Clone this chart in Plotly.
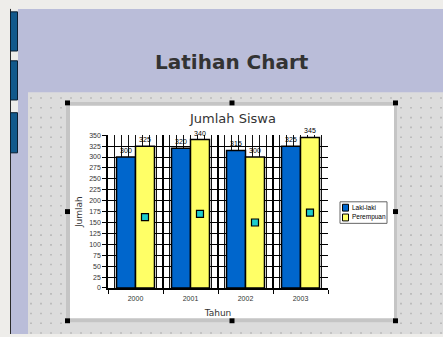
import numpy as np
import plotly.graph_objects as go

W, H = 443, 337

# ---- data -------------------------------------------------------------
years = ["2000", "2001", "2002", "2003"]
laki_laki = [300, 320, 315, 325]
perempuan = [325, 340, 300, 345]
penanda = [162.5, 170, 150, 172.5]
y_ticks = list(range(0, 351, 25))
series_names = ["Laki-laki", "Perempuan"]

# ---- style ------------------------------------------------------------
COL_LAKI = "#0066CC"
COL_PEREMPUAN = "#FFFF66"
COL_MARKER = "#1CCCCC"
TXT = "#333333"
FONT = "DejaVu Sans"
SMALL = "Liberation Sans Narrow, Liberation Sans, sans-serif"
BAR_GAP = 0.31

# plot rectangle on the page, in pixels
PL, PR, PT, PB = 108, 328, 134, 290


def fx(px):
    return px / W


def fy(py):
    return 1 - py / H


idx = np.arange(len(years))
fig = go.Figure()

# dotted snap grid of the slide workspace (canvas subplot underneath)
gx, gy = np.meshgrid(np.arange(31, W, 10), np.arange(96, H, 10))
gx, gy = gx.ravel(), gy.ravel()
in_frame = (gx >= 63) & (gx <= 400) & (gy >= 97) & (gy <= 328)
keep = (gx >= 29) & (gy >= 91) & ~in_frame
fig.add_trace(go.Scatter(
    x=gx[keep], y=gy[keep], mode="markers",
    marker=dict(size=1.6, color="#B4B4B4", symbol="square", line=dict(width=0)),
    xaxis="x", yaxis="y", hoverinfo="skip", showlegend=False))

# bars
for vals, name, col in [(laki_laki, series_names[0], COL_LAKI),
                        (perempuan, series_names[1], COL_PEREMPUAN)]:
    fig.add_trace(go.Bar(
        x=idx, y=vals, name=name,
        marker=dict(color=col, line=dict(color="black", width=1.5)),
        text=[str(v) for v in vals], textposition="outside",
        textfont=dict(size=7, color="black", family=SMALL),
        constraintext="none",
        cliponaxis=False, xaxis="x2", yaxis="y2", showlegend=False))

# square markers sitting in the second bar of each group
offset = (1 - BAR_GAP) / 4
fig.add_trace(go.Scatter(
    x=idx + offset, y=penanda, mode="markers",
    marker=dict(symbol="square", size=7, color=COL_MARKER,
                line=dict(color="black", width=1.2)),
    xaxis="x3", yaxis="y2", showlegend=False, cliponaxis=False))

# ---- page decoration --------------------------------------------------
shapes = []


def rect(x0, y0, x1, y1, fill, line_col=None, lw=0, layer="below"):
    shapes.append(dict(type="rect", xref="paper", yref="paper",
                       x0=fx(x0), x1=fx(x1), y0=fy(y1), y1=fy(y0),
                       fillcolor=fill, layer=layer,
                       line=dict(color=line_col or fill, width=lw)))


rect(18, 5, W, H, "#BABDD9")
rect(10, 152, 18, H, "#BABDD9")
shapes.append(dict(type="line", xref="paper", yref="paper", x0=fx(10.5), x1=fx(10.5),
                   y0=fy(H), y1=fy(5), line=dict(color="#2A2A2A", width=1), layer="below"))
for t0, t1 in [(8, 48), (58, 98), (111, 152)]:
    rect(10.5, t0, 17.5, t1, "#12598C", "#0A1E30", 1)
rect(28, 90, W, H, "#DCDCDC")
rect(66, 100, 397, 325, "#C5C5C5")
rect(70, 104, 394, 321, "#FFFFFF")
for hx in (67.5, 232, 395.5):
    for hy in (101, 212, 323.5):
        if hx == 232 and hy == 212:
            continue
        rect(hx - 2.5, hy - 2.5, hx + 2.5, hy + 2.5, "#000000")

# legend box
rect(340, 202, 387, 224, "#FFFFFF", "#666666", 1, layer="above")
annotations = []
for i, (name, col) in enumerate(zip(series_names, [COL_LAKI, COL_PEREMPUAN])):
    yc = 208 + 10 * i
    rect(342.5, yc - 3.5, 348.5, yc + 3.5, col, "#000000", 1, layer="above")
    annotations.append(dict(xref="paper", yref="paper", x=fx(349.5), y=fy(yc),
                            xanchor="left", yanchor="middle", showarrow=False,
                            text=name, font=dict(size=6.5, color="black", family=SMALL)))

annotations.append(dict(xref="paper", yref="paper", x=fx(232), y=fy(59),
                        xanchor="center", yanchor="middle", showarrow=False,
                        text="<b>Latihan Chart</b>",
                        font=dict(size=20, color=TXT, family=FONT)))
annotations.append(dict(xref="paper", yref="paper", x=fx(232), y=fy(117),
                        xanchor="center", yanchor="middle", showarrow=False,
                        text="Jumlah Siswa", font=dict(size=13, color=TXT, family=FONT)))

fig.update_layout(
    width=W, height=H, autosize=False,
    margin=dict(l=0, r=0, t=0, b=0),
    paper_bgcolor="#EEEDEA", plot_bgcolor="rgba(0,0,0,0)",
    font=dict(family=FONT, color=TXT),
    bargap=BAR_GAP, bargroupgap=0, barmode="group",
    showlegend=False,
    shapes=shapes, annotations=annotations,
    xaxis=dict(domain=[0, 1], range=[0, W], visible=False, fixedrange=True),
    yaxis=dict(domain=[0, 1], range=[H, 0], visible=False, fixedrange=True),
    xaxis2=dict(domain=[fx(PL), fx(PR)], anchor="y2", range=[-0.5, 3.5],
                tickmode="linear", tick0=-0.5, dtick=1,
                showticklabels=False, ticks="outside", ticklen=4,
                tickcolor="black", tickwidth=1,
                showgrid=True, gridcolor="black", gridwidth=1.5,
                minor=dict(tick0=-0.5, dtick=0.125, showgrid=True,
                           gridcolor="#111111", gridwidth=0.8, ticks="", ticklen=0),
                showline=True, linecolor="black", linewidth=1.5, zeroline=False),
    xaxis3=dict(overlaying="x2", anchor="y2", side="bottom", range=[-0.5, 3.5],
                tickmode="array", tickvals=idx, ticktext=years, ticks="",
                ticklabelstandoff=5,
                showgrid=False, showline=False, zeroline=False,
                tickfont=dict(size=7, color=TXT, family=SMALL),
                title=dict(text="Tahun", font=dict(size=9, color=TXT), standoff=8)),
    yaxis2=dict(domain=[fy(PB), fy(PT)], anchor="x2", range=[0, 350],
                tickmode="array", tickvals=y_ticks,
                ticks="outside", ticklen=4, tickcolor="black",
                tickfont=dict(size=7, color=TXT, family=SMALL),
                showgrid=True, gridcolor="black", gridwidth=1,
                showline=True, linecolor="black", linewidth=1.5, zeroline=False,
                title=dict(text="Jumlah", font=dict(size=9, color=TXT), standoff=5)),
)

fig.write_html("out.html")
